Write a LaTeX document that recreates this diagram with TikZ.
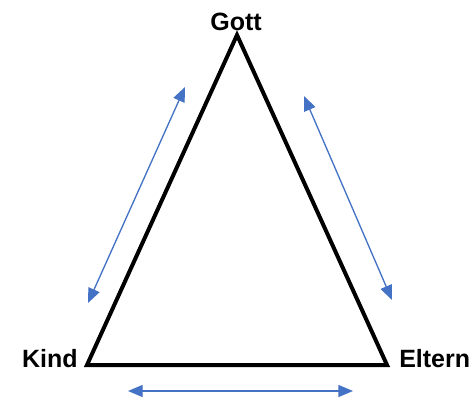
\documentclass[tikz,border=0pt]{standalone}
\usepackage{fontspec}
\setmainfont{Liberation Sans}
\usetikzlibrary{arrows.meta}
\definecolor{arrowblue}{HTML}{4472C4}
\tikzset{
  lbl/.style={inner sep=0pt, font=\fontsize{18.75}{22}\selectfont\bfseries},
  tri/.style={line width=3pt, line join=miter},
  rel/.style={draw=arrowblue, line width=1pt, {Triangle[length=11pt,width=9pt]}-{Triangle[length=11pt,width=9pt]}, arrowblue}
}
\begin{document}
\begin{tikzpicture}[x=0.75pt,y=-0.75pt]
\useasboundingbox (0,0) rectangle (474,400);
\coordinate (top) at (237,35);
\coordinate (bl) at (87,365);
\coordinate (br) at (387,365);
\draw[tri] (top) -- (br) -- (bl) -- cycle;
\node[lbl, anchor=base] (gott) at (236,30) {Gott};
\node[lbl, anchor=base east] (kind) at (78,367) {Kind};
\node[lbl, anchor=base west] (eltern) at (399,367) {Eltern};
\coordinate (l1) at (185,87);
\coordinate (l2) at (88,303);
\coordinate (r1) at (304,96);
\coordinate (r2) at (392,300);
\coordinate (b1) at (128,391);
\coordinate (b2) at (353,391);
\draw[rel] (l1) -- (l2);
\draw[rel] (r1) -- (r2);
\draw[rel] (b1) -- (b2);
\end{tikzpicture}
\end{document}
